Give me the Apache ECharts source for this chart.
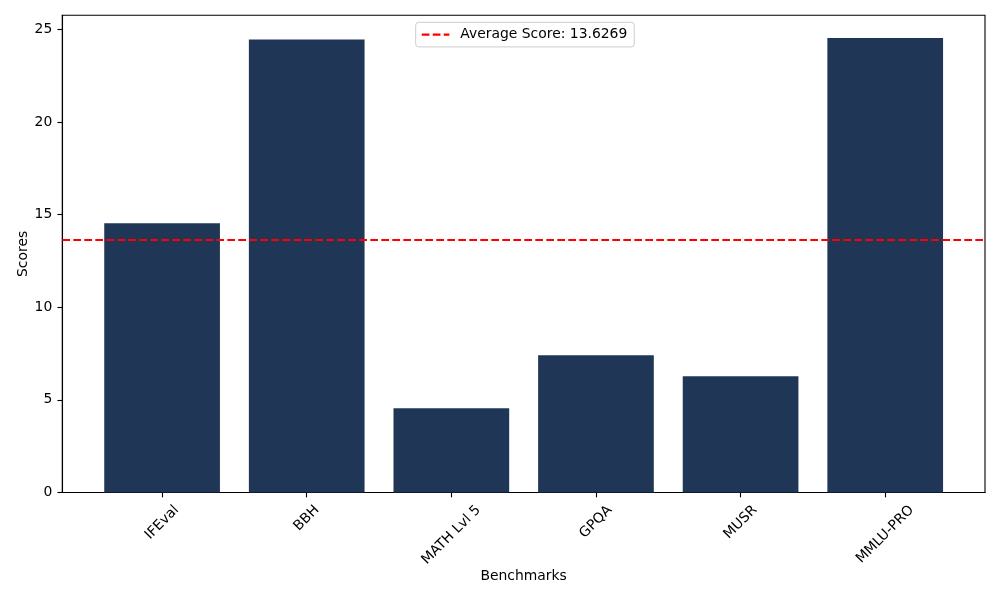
<!DOCTYPE html>
<html>
<head>
<meta charset="utf-8">
<script src="https://cdn.jsdelivr.net/npm/echarts@6/dist/echarts.min.js"></script>
<style>
html, body { margin: 0; padding: 0; background: #fff; }
#chart { width: 1000px; height: 600px; }
</style>
</head>
<body>
<div id="chart"></div>
<script>
// ---- data ----
const categories = ['IFEval', 'BBH', 'MATH Lvl 5', 'GPQA', 'MUSR', 'MMLU-PRO'];
const scores = [14.53, 24.46, 4.55, 7.41, 6.28, 24.53];
const averageScore = 13.6269;
const yMax = 25.76;
const yInterval = 5;

// ---- styling helpers ----
const FONT = '"DejaVu Sans", sans-serif';
const FS = 13.9;
const canvas = document.createElement('canvas');
const ctx = canvas.getContext('2d');
ctx.font = FS + 'px "DejaVu Sans"';
const rich = { t: { fontSize: FS, color: '#000', fontFamily: FONT, lineHeight: 16 } };
categories.forEach((c, i) => {
  const w = ctx.measureText(c).width;
  const G = (w + 16.2) / 2;
  rich['g' + i] = { fontSize: 1, lineHeight: G, color: 'rgba(0,0,0,0)' };
  rich['w' + i] = { fontSize: 1, width: G, color: 'rgba(0,0,0,0)' };
});

const chart = echarts.init(document.getElementById('chart'), null, { renderer: 'canvas' });

const frame = { left: 62.3, right: 15, top: 15.3, bottom: 107.5 };
const unit = (1000 - frame.left - frame.right) / 6.38;
const inner = { left: frame.left + 0.19 * unit, right: frame.right + 0.19 * unit, top: frame.top, bottom: frame.bottom };

const avgName = 'Average Score: ' + averageScore.toFixed(4);
const dash = { color: '#ff0000', width: 2.08, type: [7.7, 3.3] };

chart.setOption({
  animation: false,
  backgroundColor: '#ffffff',
  textStyle: { fontFamily: FONT },
  legend: {
    data: [avgName],
    left: 415.7,
    top: 22.3,
    padding: [5.3, 7, 5.3, 5],
    itemWidth: 27.6,
    itemHeight: 14,
    borderColor: '#cccccc',
    borderWidth: 1,
    borderRadius: 3,
    backgroundColor: 'rgba(255,255,255,0.8)',
    itemStyle: { color: 'rgba(0,0,0,0)', borderWidth: 0, opacity: 0 },
    lineStyle: dash,
    textStyle: { fontSize: FS, color: '#000', fontFamily: FONT, padding: [0, 0, 0, 6] }
  },
  grid: [
    Object.assign({ show: true, borderColor: '#000', borderWidth: 1.1, backgroundColor: 'transparent', containLabel: false, outerBoundsMode: 'none' }, frame),
    Object.assign({ show: false, containLabel: false, outerBoundsMode: 'none' }, inner)
  ],
  xAxis: [
    {
      type: 'value', gridIndex: 0, min: 0, max: 1,
      axisLine: { show: true, lineStyle: { color: '#000', width: 1.1 } },
      axisTick: { show: false }, axisLabel: { show: false }, splitLine: { show: false },
      name: 'Benchmarks', nameLocation: 'middle', nameGap: 77, nameMoveOverlap: false,
      nameTextStyle: { fontSize: FS, color: '#000', fontFamily: FONT }
    },
    {
      type: 'category', gridIndex: 1,
      data: categories,
      boundaryGap: true,
      axisLine: { show: false },
      axisTick: { show: true, alignWithLabel: true, length: 4.86, lineStyle: { color: '#000', width: 1.1 } },
      axisLabel: {
        interval: 0, rotate: 45, margin: 9.7, align: 'center', verticalAlign: 'middle',
        fontSize: FS, color: '#000', fontFamily: FONT, hideOverlap: false,
        formatter: (value, index) => '{g' + index + '| }\n{t|' + value + '}{w' + index + '| }',
        rich: rich
      },
      splitLine: { show: false }
    }
  ],
  yAxis: [
    {
      type: 'value', gridIndex: 0, min: 0, max: yMax, interval: yInterval,
      axisLine: { show: true, lineStyle: { color: '#000', width: 1.1 } },
      axisTick: { show: true, length: 4.86, lineStyle: { color: '#000', width: 1.1 } },
      axisLabel: { fontSize: FS, color: '#000', fontFamily: FONT, margin: 10, showMaxLabel: false },
      splitLine: { show: false },
      name: 'Scores', nameLocation: 'middle', nameGap: 32, nameRotate: 90, nameMoveOverlap: false,
      nameTextStyle: { fontSize: FS, color: '#000', fontFamily: FONT }
    },
    {
      type: 'value', gridIndex: 1, min: 0, max: yMax, interval: yInterval,
      show: false, splitLine: { show: false }
    }
  ],
  series: [
    {
      type: 'bar', name: 'Scores', xAxisIndex: 1, yAxisIndex: 1,
      data: scores, barWidth: '80%',
      itemStyle: { color: '#1f3656', borderWidth: 0 }, z: 2, silent: true
    },
    {
      type: 'line', name: avgName, xAxisIndex: 0, yAxisIndex: 0,
      data: [[0, averageScore], [1, averageScore]],
      symbol: 'none', z: 5, silent: true,
      lineStyle: dash,
      itemStyle: { color: '#ff0000' }
    }
  ]
});
</script>
</body>
</html>
